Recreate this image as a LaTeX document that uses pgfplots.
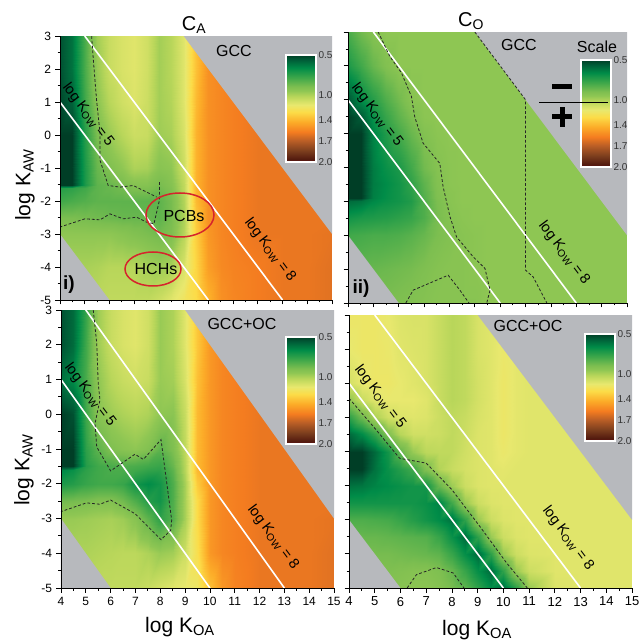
\documentclass[border=0pt]{standalone}
\usepackage{fontspec}
\setmainfont{Liberation Sans}
\usepackage{pgfplots}
\pgfplotsset{compat=1.18}
\usetikzlibrary{shapes.geometric}
\definecolor{panelgray}{RGB}{183,185,189}
\definecolor{ringred}{RGB}{214,36,44}
\pgfplotsset{colormap={ks}{
 rgb255(0.5cm)=(0,62,38) rgb255(0.56cm)=(0,90,54) rgb255(0.68cm)=(0,140,72) rgb255(0.82cm)=(64,168,74)
 rgb255(0.94cm)=(124,190,80) rgb255(1.0cm)=(142,198,83) rgb255(1.08cm)=(184,214,90) rgb255(1.2cm)=(232,232,110)
 rgb255(1.3cm)=(252,220,72) rgb255(1.44cm)=(252,172,40) rgb255(1.58cm)=(244,124,32) rgb255(1.7cm)=(186,94,38)
 rgb255(1.84cm)=(125,63,30) rgb255(1.97cm)=(80,24,14) rgb255(2.0cm)=(190,30,50)}}
% ---- grid values: each row is logKAW / values at logKOA = the list in \buildmesh
\newcommand\buildmesh[2]{\gdef\meshbuf{}%
 \foreach \yy/\vals in {#2}{%
  \foreach \vv [count=\ii from 0] in \vals {%
   \pgfmathsetmacro\xx{{4,4.5,5,5.5,6,6.5,7,7.5,8,8.5,9,9.5,10,10.5,11,12,13,14,15}[\ii]}%
   \xdef\meshbuf{\meshbuf (\xx,\yy) [\vv]}%
  }}\global\let#1\meshbuf}
\buildmesh\meshA{
3/{.54,.62,.84,1.04,1.12,1.16,1.18,1.14,1.04,1.08,1.18,1.38,1.52,1.55,1.57,1.6,1.6,1.6,1.6},
2/{.54,.62,.84,1.02,1.12,1.16,1.18,1.14,1.04,1.08,1.18,1.38,1.52,1.55,1.57,1.6,1.6,1.6,1.6},
1/{.52,.58,.82,.99,1.08,1.14,1.17,1.13,1.04,1.07,1.18,1.4,1.52,1.55,1.57,1.6,1.6,1.6,1.6},
0/{.5,.5,.76,.94,1.02,1.08,1.13,1.12,1.03,1.05,1.16,1.42,1.52,1.55,1.57,1.6,1.6,1.6,1.6},
-1/{.5,.5,.74,.9,.95,1,1.06,1.05,.98,1,1.13,1.42,1.52,1.55,1.57,1.6,1.6,1.6,1.6},
-1.5/{.5,.5,.74,.88,.9,.93,.97,.97,.93,.97,1.1,1.42,1.52,1.55,1.57,1.6,1.6,1.6,1.6},
-1.6/{.76,.78,.82,.88,.9,.92,.95,.95,.92,.96,1.1,1.42,1.52,1.55,1.57,1.6,1.6,1.6,1.6},
-2/{.82,.84,.86,.88,.88,.88,.88,.88,.88,.93,1.07,1.4,1.52,1.55,1.57,1.6,1.6,1.6,1.6},
-2.5/{.94,.94,.93,.92,.91,.9,.9,.9,.88,.93,1.06,1.36,1.52,1.55,1.57,1.6,1.6,1.6,1.6},
-3/{1,1,1,1,1,.98,.96,.94,.92,.95,1.08,1.34,1.5,1.55,1.57,1.6,1.6,1.6,1.61},
-4/{1.05,1.05,1.05,1.06,1.08,1.08,1.08,1.05,1.03,1.05,1.16,1.32,1.48,1.54,1.56,1.58,1.6,1.6,1.62},
-5/{1.08,1.08,1.08,1.09,1.1,1.1,1.1,1.1,1.13,1.18,1.24,1.3,1.42,1.52,1.55,1.58,1.6,1.6,1.62}}
\buildmesh\meshB{
3/{.84,.92,.97,1,1,1,1,1,1,1,1,1,1,1,1,1,1,1,1},
2/{.74,.82,.9,.96,1,1,1,1,1,1,1,1,1,1,1,1,1,1,1},
1/{.55,.68,.76,.85,.92,.98,1,1,1,1,1,1,1,1,1,1,1,1,1},
.5/{.5,.56,.7,.8,.88,.94,.99,1,1,1,1,1,1,1,1,1,1,1,1},
0/{.5,.5,.66,.75,.83,.9,.96,.99,1,1,1,1,1,1,1,1,1,1,1},
-1/{.5,.5,.64,.7,.74,.82,.92,.97,.99,1,1,1,1,1,1,1,1,1,1},
-1.5/{.5,.5,.64,.68,.72,.78,.88,.96,.99,1,1,1,1,1,1,1,1,1,1},
-1.9/{.5,.5,.65,.69,.72,.76,.86,.95,.98,1,1,1,1,1,1,1,1,1,1},
-2/{.6,.62,.67,.7,.72,.75,.85,.94,.98,1,1,1,1,1,1,1,1,1,1},
-2.5/{.72,.74,.75,.76,.78,.8,.85,.93,.97,.99,1,1,1,1,1,1,1,1,1},
-3/{.82,.83,.84,.84,.85,.87,.9,.94,.96,.98,.99,1,1,1,1,1,1,1,1},
-4/{.88,.89,.9,.91,.92,.93,.95,.97,.98,.98,.99,1,1,1,1,1,1,1,1},
-5/{.92,.93,.94,.94,.95,.96,.97,.98,.98,.98,.98,1,1,1,1,1,1,1,1}}
\buildmesh\meshC{
3/{.54,.6,.8,1.03,1.12,1.16,1.18,1.14,1.02,1.06,1.18,1.36,1.5,1.55,1.57,1.6,1.6,1.6,1.6},
2/{.54,.6,.82,1.03,1.12,1.16,1.18,1.14,1.02,1.06,1.18,1.36,1.5,1.55,1.57,1.6,1.6,1.6,1.6},
1/{.62,.68,.84,1.0,1.08,1.12,1.14,1.12,1.02,1.04,1.16,1.38,1.5,1.55,1.57,1.6,1.6,1.6,1.6},
0/{.5,.54,.82,.98,1.03,1.06,1.08,1.06,1.0,.99,1.12,1.4,1.5,1.55,1.57,1.6,1.6,1.6,1.6},
-1/{.5,.5,.78,.88,.95,.98,1,.96,.88,.95,1.1,1.4,1.5,1.55,1.57,1.6,1.6,1.6,1.6},
-1.5/{.5,.5,.76,.82,.84,.85,.84,.82,.8,.9,1.08,1.4,1.5,1.55,1.57,1.6,1.6,1.6,1.6},
-1.6/{.66,.7,.78,.82,.84,.84,.82,.79,.78,.88,1.08,1.4,1.5,1.55,1.57,1.6,1.6,1.6,1.6},
-2/{.74,.76,.8,.82,.82,.8,.72,.68,.72,.85,1.05,1.35,1.5,1.55,1.57,1.6,1.6,1.6,1.6},
-2.5/{.92,.93,.94,.96,.96,.92,.85,.76,.72,.85,1.05,1.3,1.5,1.55,1.57,1.6,1.6,1.6,1.6},
-3/{1.02,1.02,1.03,1.04,1.05,1.03,.98,.88,.78,.86,1.05,1.3,1.5,1.55,1.57,1.6,1.6,1.6,1.61},
-4/{1.06,1.06,1.06,1.07,1.08,1.09,1.09,1.06,1.02,1.04,1.13,1.28,1.5,1.55,1.57,1.6,1.6,1.6,1.62},
-5/{1.09,1.09,1.09,1.1,1.1,1.1,1.1,1.12,1.15,1.18,1.2,1.22,1.38,1.5,1.56,1.6,1.6,1.6,1.62}}
\buildmesh\meshD{
3/{1.22,1.22,1.22,1.2,1.17,1.16,1.16,1.12,1.08,1.1,1.16,1.18,1.2,1.19,1.18,1.18,1.18,1.18,1.18},
2/{1.2,1.22,1.22,1.21,1.18,1.17,1.16,1.12,1.08,1.1,1.16,1.18,1.21,1.19,1.18,1.18,1.18,1.18,1.18},
1/{1.15,1.2,1.22,1.22,1.2,1.18,1.16,1.12,1.08,1.1,1.15,1.18,1.22,1.19,1.18,1.18,1.18,1.18,1.18},
.5/{1,1.12,1.18,1.2,1.2,1.2,1.18,1.12,1.08,1.1,1.15,1.18,1.22,1.19,1.18,1.18,1.18,1.18,1.18},
0/{.78,.92,1.06,1.14,1.17,1.18,1.17,1.13,1.1,1.12,1.16,1.18,1.22,1.19,1.18,1.18,1.18,1.18,1.18},
-.5/{.6,.68,.8,.96,1.08,1.14,1.14,1.13,1.1,1.13,1.17,1.18,1.22,1.19,1.18,1.18,1.18,1.18,1.18},
-1/{.5,.5,.6,.72,.88,1.02,1.09,1.1,1.1,1.14,1.17,1.18,1.21,1.19,1.18,1.18,1.18,1.18,1.18},
-1.5/{.5,.5,.62,.7,.76,.82,.96,1.07,1.12,1.15,1.17,1.18,1.19,1.18,1.18,1.18,1.18,1.18,1.18},
-2/{.62,.63,.66,.68,.7,.72,.72,.9,1.03,1.13,1.17,1.18,1.18,1.18,1.18,1.18,1.18,1.18,1.18},
-2.5/{.72,.72,.72,.72,.72,.72,.7,.66,.82,1.02,1.13,1.17,1.18,1.18,1.18,1.18,1.18,1.18,1.18},
-3/{.85,.85,.84,.83,.8,.76,.72,.68,.62,.78,1.02,1.13,1.17,1.18,1.18,1.18,1.18,1.18,1.18},
-3.5/{.9,.9,.9,.89,.88,.87,.86,.8,.7,.6,.78,1.02,1.13,1.17,1.18,1.18,1.18,1.18,1.18},
-4/{.93,.93,.93,.93,.92,.91,.9,.88,.8,.69,.6,.78,1.02,1.13,1.17,1.18,1.18,1.18,1.18},
-4.5/{.95,.95,.95,.95,.96,.97,.97,.95,.9,.8,.69,.6,.78,1.02,1.13,1.18,1.18,1.18,1.18},
-5/{.97,.97,.97,.97,.98,.99,.99,.97,.93,.88,.78,.68,.6,.78,1.02,1.17,1.18,1.18,1.18}}
\pgfplotsset{panel/.style={scale only axis,anchor=south west,axis on top,
  xmin=4,xmax=15,ymin=-5,ymax=3,xtick={4,...,15},ytick={-5,...,3},
  minor x tick num=1,minor y tick num=1,axis x line=bottom,axis y line=left,
  axis line style={-,black,line width=0.9pt},
  tick style={black,line width=0.8pt},major tick length=4.5pt,minor tick length=2.5pt,
  tick align=outside,xtick pos=bottom,ytick pos=left,
  colormap name=ks,point meta min=0.5,point meta max=2,
  ticklabel style={font=\fontsize{12}{13}\selectfont},
  /pgf/number format/assume math mode=true,
  xticklabel style={yshift=-1pt},yticklabel style={xshift=-1pt},
  clip=true},
 cbar/.style={scale only axis,anchor=south west,width=30pt,height=107pt,
  xmin=0,xmax=1,ymin=0.5,ymax=2,y dir=reverse,xtick=\empty,
  ytick={0.5,1.06,1.41,1.7,2},yticklabels={0.5,1.0,1.4,1.7,2.0},
  yticklabel pos=right,tick style={draw=none},major tick length=0pt,
  axis line style={white,line width=1.3pt},axis on top,
  colormap name=ks,point meta min=0.5,point meta max=2,
  ticklabel style={font=\fontsize{10}{11}\selectfont,text=black!80},
  yticklabel style={xshift=-1pt},
  /pgf/number format/assume math mode=true},
 corners/.style={fill=panelgray,draw=none,forget plot},
 kow/.style={white,line width=1.6pt,forget plot},
 dsh/.style={black!85,line width=0.8pt,dash pattern=on 2.8pt off 2pt,forget plot}}
\newcommand\surfplot[1]{\edef\tmp{\noexpand\addplot[surf,shader=interp,mesh/cols=19,point meta=explicit,forget plot] coordinates {#1};}\tmp}
\newcommand\common{%
 \addplot[corners] coordinates {(4,-3) (6,-5) (4,-5) (4,-3)};
 \addplot[corners] coordinates {(9,3) (15,-3) (15,3) (9,3)};
 \addplot[kow] coordinates {(4,1) (10,-5)};
 \addplot[kow] coordinates {(5,3) (13,-5)};}
\newcommand\cbarplot{\addplot[surf,shader=interp,mesh/cols=2,point meta=explicit] coordinates {(0,0.5) [0.5] (1,0.5) [0.5] (0,2) [2] (1,2) [2]};}
\newcommand\kowlab[1]{\fontsize{14.5}{15}\selectfont log K\textsubscript{OW} = #1}
\newcommand\lab[1]{\fontsize{21}{22}\selectfont log K\textsubscript{#1}}
\begin{document}
\begin{tikzpicture}[x=1pt,y=1pt]
\path[use as bounding box] (0,0) rectangle (639,641);
% --- panel i
\begin{axis}[panel,at={(60pt,341pt)},width=272pt,height=264pt,xticklabels={}]
\surfplot{\meshA}
\common
\addplot[dsh] coordinates {(5.28,3)(5.35,2.26)(5.48,1.05)(5.62,0.04)(5.62,-0.77)(5.95,-1.53)(6.43,-1.58)(6.96,-1.53)(7.91,-1.88)};
\addplot[dsh] coordinates {(8.02,-1.43)(8.02,-1.98)(7.8,-2.69)(7.5,-2.64)(7.1,-2.49)(6.56,-2.54)(6.02,-2.39)(5.62,-2.57)(5.01,-2.54)(4.4,-2.69)(4,-2.79)};
\end{axis}
% --- panel ii
\begin{axis}[panel,at={(348pt,338pt)},width=279pt,height=271pt,xticklabels={},yticklabels={}]
\surfplot{\meshB}
\common
\addplot[dsh] coordinates {(5.19,3)(5.65,2.28)(6.11,1.79)(6.5,1.1)(6.63,0.5)(6.96,-0.28)(7.62,-0.88)(7.75,-1.57)(8.02,-2.45)(8.28,-3.05)(8.94,-3.64)(9.4,-3.98)(9.6,-4.62)(9.47,-5)};
\addplot[dsh] coordinates {(9,3)(11,1)(11,-0.97)(11,-4.03)(11.3,-4.23)(11.84,-5)};
\addplot[dsh] coordinates {(6.28,-5)(6.57,-4.62)(7.95,-4.18)(8.41,-4.62)(8.77,-5)};
\end{axis}
% --- panel iii
\begin{axis}[panel,at={(61pt,53pt)},width=273pt,height=278pt]
\surfplot{\meshC}
\common
\addplot[dsh] coordinates {(5.3,3)(5.44,2.04)(5.5,0.89)(5.57,0.41)(5.37,-0.27)(5.44,-0.94)(6,-1.63)(6.98,-1.15)(7.32,-1.3)(8.03,-0.73)(8.46,-3.05)(8.42,-3.34)(8.03,-3.61)(6.98,-2.86)(6,-2.47)(5.57,-2.59)(5.03,-2.55)(4.09,-2.78)(4,-2.8)};
\end{axis}
% --- panel iv
\begin{axis}[panel,at={(349pt,53pt)},width=283pt,height=273pt,yticklabels={},xticklabel style={font=\fontsize{13}{14}\selectfont}]
\surfplot{\meshD}
\common
\addplot[dsh] coordinates {(4,0.56)(5.06,-0.37)(5.97,-1.2)(7,-1.34)(8,-2.12)(9.09,-3.2)(10.13,-4.27)(10.93,-5)};
\addplot[dsh] coordinates {(6.26,-5)(6.62,-4.61)(7.4,-4.4)(8.05,-4.56)(8.47,-5)};
\end{axis}
% --- colour scales
\begin{axis}[cbar,at={(286pt,479pt)}]\cbarplot\end{axis}
\begin{axis}[cbar,at={(581pt,474pt)}]\cbarplot\end{axis}
\begin{axis}[cbar,at={(286pt,197pt)}]\cbarplot\end{axis}
\begin{axis}[cbar,at={(585pt,200pt)}]\cbarplot\end{axis}
% --- panel text (y = 641 - image y)
\node[font=\fontsize{20}{21}\selectfont] at (194,616) {C\textsubscript{A}};
\node[font=\fontsize{20}{21}\selectfont] at (471,620) {C\textsubscript{O}};
\node[rotate=90] at (25,456) {\lab{AW}};
\node[rotate=90] at (24,171) {\lab{AW}};
\node at (180,14) {\lab{OA}};
\node at (477,11) {\lab{OA}};
\node[font=\fontsize{16}{17}\selectfont] at (234,590) {GCC};
\node[font=\fontsize{16}{17}\selectfont] at (519,596) {GCC};
\node[font=\fontsize{16}{17}\selectfont] at (597,594) {Scale};
\node[font=\fontsize{16}{17}\selectfont] at (242,317) {GCC+OC};
\node[font=\fontsize{16}{17}\selectfont] at (528,315) {GCC+OC};
\node[font=\bfseries\fontsize{19}{20}\selectfont] at (69,356) {i)};
\node[font=\bfseries\fontsize{19}{20}\selectfont] at (361,352) {ii)};
\node[rotate=-53] at (88,526) {\kowlab{5}};
\node[rotate=-53] at (270,391) {\kowlab{8}};
\node[rotate=-53] at (377,526) {\kowlab{5}};
\node[rotate=-53] at (564,388) {\kowlab{8}};
\node[rotate=-53] at (90,246) {\kowlab{5}};
\node[rotate=-53] at (273,104) {\kowlab{8}};
\node[rotate=-53] at (380,244) {\kowlab{5}};
\node[rotate=-53] at (568,103) {\kowlab{8}};
\node[font=\fontsize{16}{17}\selectfont] at (184,425) {PCBs};
\node[font=\fontsize{16}{17}\selectfont] at (156,372) {HCHs};
\draw[ringred,line width=1.5pt] (180,426) ellipse (34 and 22);
\draw[ringred,line width=1.5pt] (153,372) ellipse (28 and 17);
\draw[black,line width=0.9pt] (539,539) -- (608,539);
\draw[black,line width=5pt] (552,554) -- (572,554);
\draw[black,line width=5pt] (552,524) -- (572,524) (562,514) -- (562,534);
\end{tikzpicture}
\end{document}
